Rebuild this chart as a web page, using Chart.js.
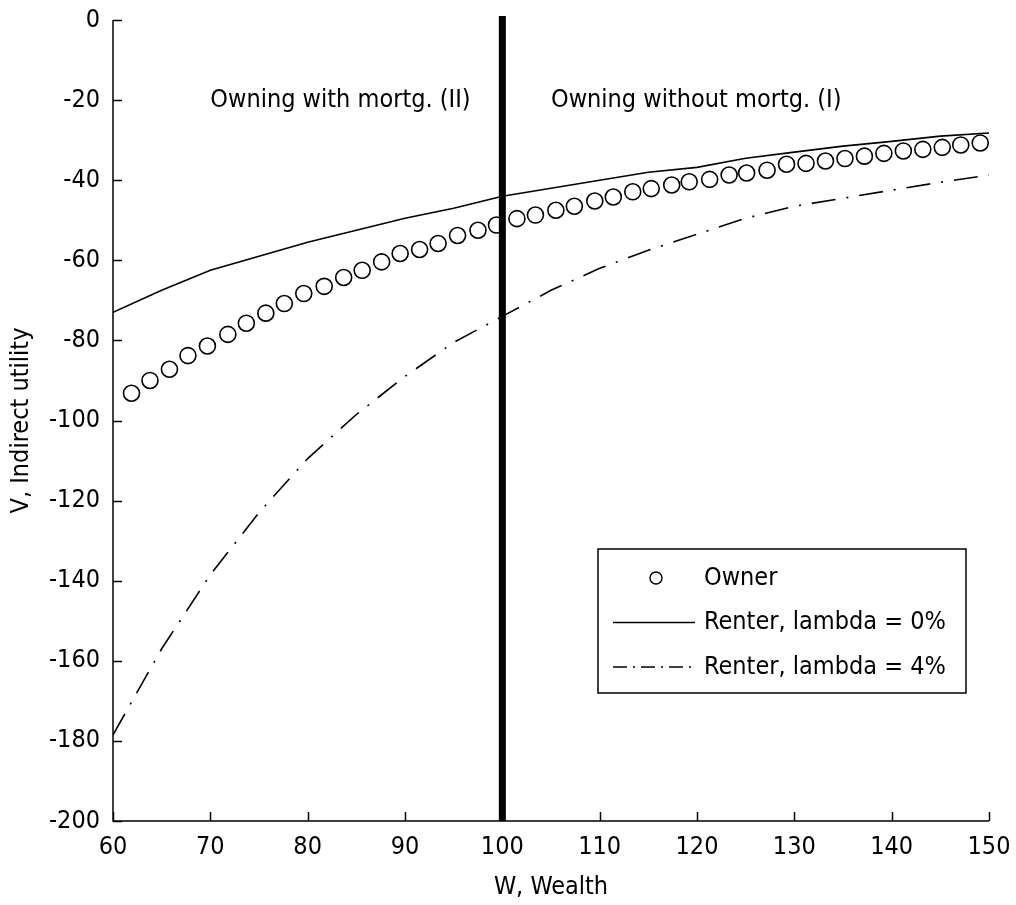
<!DOCTYPE html>
<html>
<head>
<meta charset="utf-8">
<title>Indirect utility vs wealth</title>
<script src="https://cdn.jsdelivr.net/npm/chart.js@4.4.0/dist/chart.umd.min.js"></script>
<style>
    html, body { margin: 0; padding: 0; background: #fff; }
    #wrap { width: 1016px; height: 905px; }
</style>
</head>
<body>
<div id="wrap"><canvas id="utilityChart" width="1016" height="905"></canvas></div>
<script>
const FONT = "'Liberation Sans Narrow', 'DejaVu Sans Condensed', 'Liberation Sans', Arial, sans-serif";
const FONT_SIZE = 25;

// Owner (circles)
const ownerWealth = [61.9, 63.8, 65.8, 67.7, 69.7, 71.8, 73.7, 75.7, 77.6, 79.6,
    81.7, 83.7, 85.6, 87.6, 89.5, 91.5, 93.4, 95.4, 97.5, 99.4,
    101.5, 103.4, 105.5, 107.4, 109.5, 111.4, 113.4, 115.3, 117.4, 119.2,
    121.3, 123.3, 125.1, 127.2, 129.2, 131.2, 133.2, 135.2, 137.2, 139.2,
    141.2, 143.2, 145.2, 147.1, 149.1];
const ownerUtility = [-93.2, -90.0, -87.2, -83.8, -81.4, -78.5, -75.7, -73.2, -70.8, -68.3,
    -66.5, -64.3, -62.5, -60.4, -58.3, -57.3, -55.8, -53.8, -52.5, -51.2,
    -49.6, -48.7, -47.5, -46.5, -45.2, -44.2, -42.9, -42.1, -41.2, -40.4,
    -39.8, -38.7, -38.2, -37.5, -36.0, -35.8, -35.2, -34.6, -34.0, -33.3,
    -32.7, -32.3, -31.8, -31.2, -30.7];

// Renters
const renterWealth = [60, 65, 70, 75, 80, 85, 90, 95, 100, 105, 110, 115, 120, 125, 130, 135, 140, 145, 150];
const renter0Utility = [-73, -67.5, -62.5, -59, -55.5, -52.5, -49.5, -47, -44, -42, -40, -38, -36.8, -34.5, -33, -31.5, -30.3, -29, -28.2];
const renter4Utility = [-178.5, -157, -138.5, -123, -109.5, -98.5, -89, -80.5, -74, -67.5, -62, -57.5, -53.5, -49.5, -46.5, -44.5, -42.5, -40.5, -38.7];

// Boundary between regime (II) and (I)
const boundaryWealth = [100, 100];
const boundaryUtility = [1, -200];

const xTicks = [60, 70, 80, 90, 100, 110, 120, 130, 140, 150];
const yTicks = [-200, -180, -160, -140, -120, -100, -80, -60, -40, -20, 0];

const regionText = ['Owning with mortg. (II)', 'Owning without mortg. (I)'];
const regionX = [70, 105];
const regionY = [-20, -20];

const seriesLabels = ['Owner', 'Renter, lambda = 0%', 'Renter, lambda = 4%'];

const toPoints = (xs, ys) => xs.map((x, i) => ({ x: x, y: ys[i] }));

// MATLAB-style ticks pointing into the plot
const inwardTicks = {
    id: 'inwardTicks',
    afterDraw(chart) {
        const { ctx, chartArea, scales } = chart;
        ctx.save();
        ctx.strokeStyle = '#000';
        ctx.lineWidth = 1.5;
        ctx.beginPath();
        // axis lines
        ctx.moveTo(chartArea.left, chartArea.top);
        ctx.lineTo(chartArea.left, chartArea.bottom);
        ctx.lineTo(chartArea.right, chartArea.bottom);
        xTicks.forEach(v => {
            const px = Math.round(scales.x.getPixelForValue(v)) + 0.5;
            ctx.moveTo(px, chartArea.bottom);
            ctx.lineTo(px, chartArea.bottom - 9);
        });
        yTicks.forEach(v => {
            const py = Math.round(scales.y.getPixelForValue(v)) + 0.5;
            ctx.moveTo(chartArea.left, py);
            ctx.lineTo(chartArea.left + 9, py);
        });
        ctx.stroke();
        ctx.restore();
    }
};

// Region labels placed in data coordinates
const regionLabels = {
    id: 'regionLabels',
    afterDatasetsDraw(chart) {
        const { ctx, scales } = chart;
        ctx.save();
        ctx.fillStyle = '#000';
        ctx.font = FONT_SIZE + 'px ' + FONT;
        ctx.textAlign = 'left';
        ctx.textBaseline = 'middle';
        regionText.forEach((t, i) => {
            ctx.fillText(t, scales.x.getPixelForValue(regionX[i]), scales.y.getPixelForValue(regionY[i]));
        });
        ctx.restore();
    }
};

// Boxed legend in the lower right of the axes
const boxLegend = {
    id: 'boxLegend',
    afterDatasetsDraw(chart) {
        const { ctx, chartArea } = chart;
        const w = 368, rowH = 44.5, h = 144;
        const left = chartArea.right - 23 - w;
        const top = chartArea.bottom - 128 - h;
        ctx.save();
        ctx.fillStyle = '#fff';
        ctx.fillRect(left, top, w, h);
        ctx.strokeStyle = '#000';
        ctx.lineWidth = 1.5;
        ctx.strokeRect(left, top, w, h);
        ctx.font = FONT_SIZE + 'px ' + FONT;
        ctx.textBaseline = 'middle';
        ctx.fillStyle = '#000';
        for (let i = 0; i < 3; i++) {
            const ds = chart.data.datasets[i];
            const y = top + 29 + i * rowH;
            if (i === 0) {
                ctx.lineWidth = 1.5;
                ctx.beginPath();
                ctx.arc(left + 58, y, 6, 0, Math.PI * 2);
                ctx.stroke();
            } else {
                ctx.lineWidth = ds.borderWidth;
                ctx.setLineDash(ds.borderDash ? [14, 6, 2, 6] : []);
                ctx.beginPath();
                ctx.moveTo(left + 15, y);
                ctx.lineTo(left + 97, y);
                ctx.stroke();
                ctx.setLineDash([]);
            }
            ctx.fillText(ds.label, left + 106, y);
        }
        ctx.restore();
    }
};

document.addEventListener('DOMContentLoaded', function () {
    const ctx = document.getElementById('utilityChart');
    new Chart(ctx, {
        type: 'scatter',
        data: {
            datasets: [
                {
                    label: seriesLabels[0],
                    data: toPoints(ownerWealth, ownerUtility),
                    showLine: false,
                    pointStyle: 'circle',
                    pointRadius: 8,
                    pointBorderWidth: 1.6,
                    pointBorderColor: '#000',
                    pointBackgroundColor: 'rgba(0,0,0,0)',
                    order: 1
                },
                {
                    label: seriesLabels[1],
                    data: toPoints(renterWealth, renter0Utility),
                    showLine: true,
                    borderColor: '#000',
                    borderWidth: 1.6,
                    pointRadius: 0,
                    order: 2
                },
                {
                    label: seriesLabels[2],
                    data: toPoints(renterWealth, renter4Utility),
                    showLine: true,
                    borderColor: '#000',
                    borderWidth: 1.6,
                    borderDash: [24, 11, 2, 11],
                    pointRadius: 0,
                    order: 3
                },
                {
                    label: 'boundary',
                    data: toPoints(boundaryWealth, boundaryUtility),
                    showLine: true,
                    borderColor: '#000',
                    borderWidth: 7,
                    pointRadius: 0,
                    clip: false,
                    order: 0
                }
            ]
        },
        options: {
            responsive: false,
            animation: false,
            devicePixelRatio: 1,
            layout: { padding: { top: 20, right: 27, left: 0, bottom: 0 } },
            plugins: {
                legend: { display: false },
                tooltip: { enabled: false }
            },
            scales: {
                x: {
                    type: 'linear',
                    min: 60,
                    max: 150,
                    grid: { display: false },
                    border: { display: false },
                    afterBuildTicks: scale => { scale.ticks = xTicks.map(v => ({ value: v })); },
                    afterFit: scale => { scale.height = 84; },
                    ticks: {
                        color: '#000',
                        padding: 3,
                        maxRotation: 0,
                        font: { family: FONT, size: FONT_SIZE }
                    },
                    title: {
                        display: true,
                        text: 'W, Wealth',
                        color: '#000',
                        padding: { top: 0, bottom: 3 },
                        font: { family: FONT, size: FONT_SIZE }
                    }
                },
                y: {
                    type: 'linear',
                    min: -200,
                    max: 0,
                    grid: { display: false },
                    border: { display: false },
                    afterBuildTicks: scale => { scale.ticks = yTicks.map(v => ({ value: v })); },
                    afterFit: scale => { scale.width = 113; },
                    ticks: {
                        color: '#000',
                        padding: 5,
                        font: { family: FONT, size: FONT_SIZE }
                    },
                    title: {
                        display: true,
                        text: 'V, Indirect utility',
                        color: '#000',
                        padding: { top: 6, bottom: 0 },
                        font: { family: FONT, size: FONT_SIZE }
                    }
                }
            }
        },
        plugins: [inwardTicks, regionLabels, boxLegend]
    });
});
</script>
</body>
</html>
